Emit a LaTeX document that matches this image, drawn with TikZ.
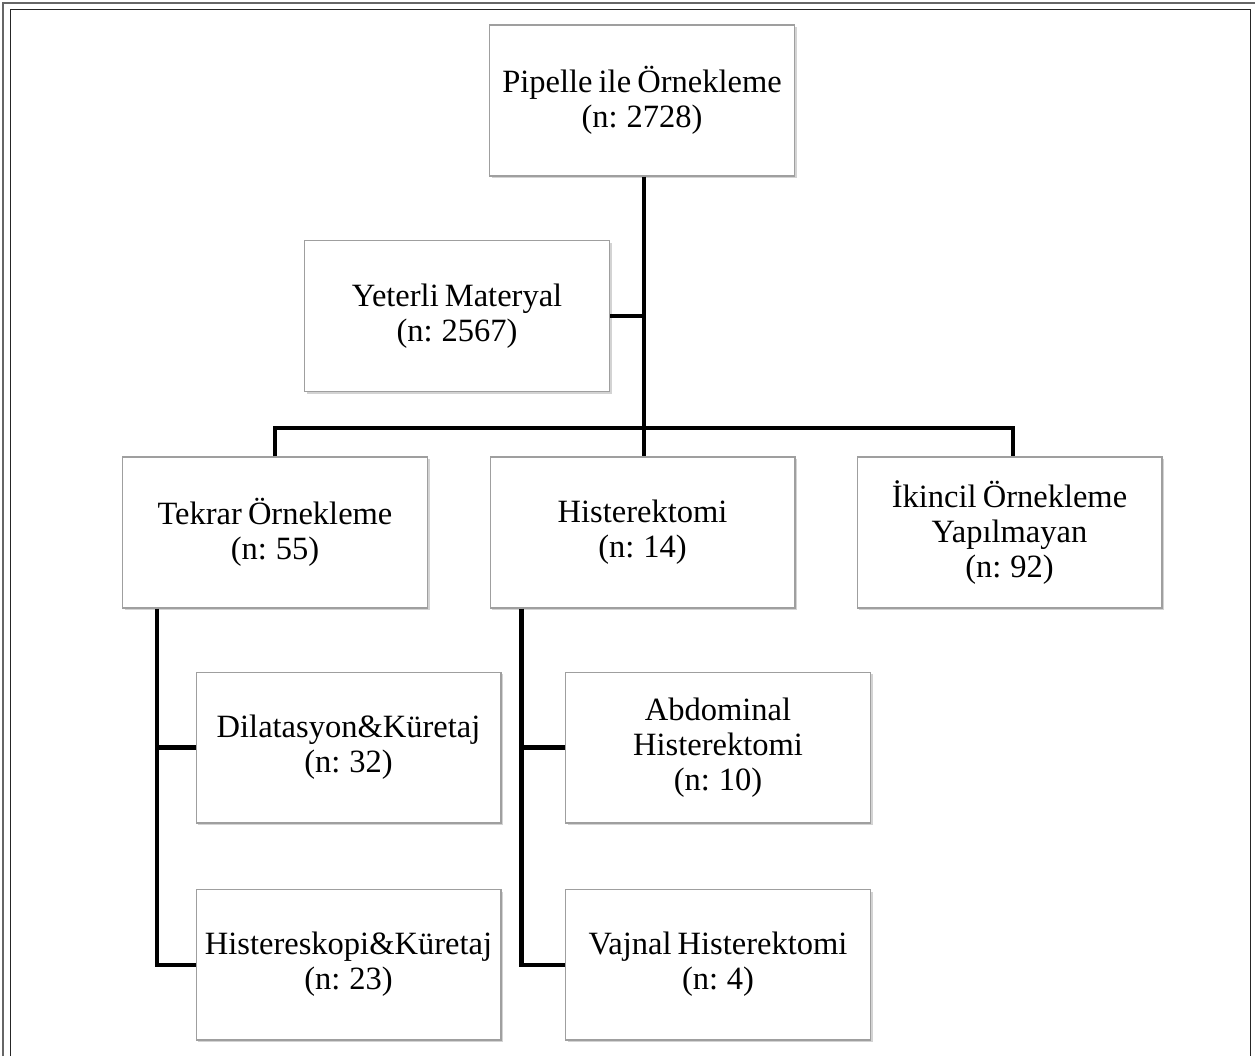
\documentclass[tikz,border=0pt]{standalone}
\usepackage{fontspec}
\setmainfont[WordSpace=0.75]{Liberation Serif}
\usepackage{tikz}
\usetikzlibrary{positioning, shadows}

\begin{document}
\begin{tikzpicture}[
  x=0.02cm, y=-0.02cm,
  font=\fontsize{18.5}{20}\selectfont,
  box/.style={
    rectangle,
    draw=gray!75, line width=0.6pt,
    fill=white,
    drop shadow={shadow xshift=1.2pt, shadow yshift=-1.4pt, opacity=0.35},
    minimum width=6.1cm, minimum height=3.02cm,
    inner sep=1mm,
    align=center
  },
  link/.style={line width=2.3pt, line join=miter}
]
\useasboundingbox (0,0) rectangle (1255,1056);

% outer frame
\draw[gray!80!black, line width=0.9pt] (3,1056) -- (3,3) -- (1255,3);
\draw[black!85, line width=0.9pt] (10.5,1056) -- (10.5,9.5) -- (1250.5,9.5) -- (1250.5,1056);

\node[box] (pipelle) at (642,100.5) {Pipelle ile Örnekleme\\(n: 2728)};

\node[box] (yeterli) at (457,316) {Yeterli Materyal\\(n: 2567)};

\node[box] (tekrar) at (275,532.5) {Tekrar Örnekleme\\(n: 55)};
\node[box] (hister) at (642.5,532.5) {Histerektomi\\(n: 14)};
\node[box] (ikincil) at (1009.5,532.5) {İkincil Örnekleme\\Yapılmayan\\(n: 92)};

\node[box] (dilat) at (348.5,747.5) {Dilatasyon\&Küretaj\\(n: 32)};
\node[box, below=1.3cm of dilat] (hsk) {Histereskopi\&Küretaj\\(n: 23)};

\node[box] (abdom) at (718,747.5) {Abdominal\\Histerektomi\\(n: 10)};
\node[box, below=1.3cm of abdom] (vajnal) {Vajnal Histerektomi\\(n: 4)};

% connectors
\coordinate (split) at ([xshift=1pt]pipelle.south |- 0,428);
\coordinate (tleg) at ([xshift=0.7cm]tekrar.south west);
\coordinate (hleg) at ([xshift=0.64cm]hister.south west);

\draw[link] ([xshift=1pt]pipelle.south) -- (split);
\draw[link] (yeterli.east) -- (yeterli.east -| split);
\draw[link] (tekrar.north) |- (split) -| ([xshift=2pt]ikincil.north);
\draw[link] (split) -- (split |- hister.north);

\draw[link] (tleg) |- (hsk.west);
\draw[link] (dilat.west) -- (dilat.west -| tleg);

\draw[link] (hleg) |- (vajnal.west);
\draw[link] (abdom.west) -- (abdom.west -| hleg);

\end{tikzpicture}
\end{document}
